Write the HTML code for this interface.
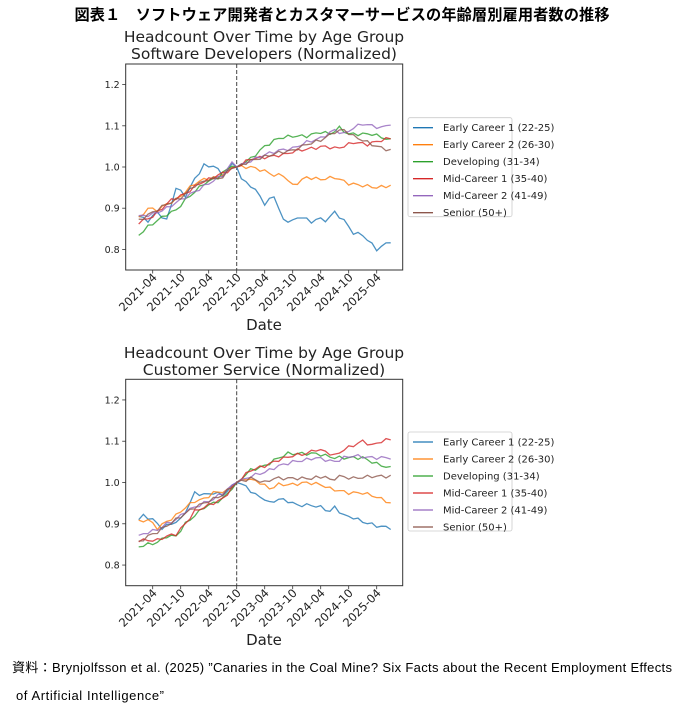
<!DOCTYPE html>
<html><head><meta charset="utf-8"><style>
body{margin:0;background:#fff}
svg{display:block}
text{font-family:"DejaVu Sans","Liberation Sans",sans-serif;fill:#222}
.jp{font-family:"Liberation Sans","Noto Sans CJK JP",sans-serif;fill:#000}
</style></head><body>
<svg id="s" width="680" height="711" viewBox="0 0 680 711" xmlns="http://www.w3.org/2000/svg">
<text class="jp" x="342" y="20" text-anchor="middle" font-size="15.2" font-weight="bold" textLength="535" lengthAdjust="spacing">図表１　ソフトウェア開発者とカスタマーサービスの年齢層別雇用者数の推移</text>
<text x="264" y="42" text-anchor="middle" font-size="15.5">Headcount Over Time by Age Group</text>
<text x="264" y="59" text-anchor="middle" font-size="15.5">Software Developers (Normalized)</text>
<text x="264" y="358" text-anchor="middle" font-size="15.5">Headcount Over Time by Age Group</text>
<text x="264" y="375" text-anchor="middle" font-size="15.5">Customer Service (Normalized)</text>
<g id="top"></g><g id="bot"></g>
<text x="264" y="330" text-anchor="middle" font-size="15">Date</text>
<text x="264" y="645" text-anchor="middle" font-size="15">Date</text>
<text class="jp" x="12" y="672" font-size="13" textLength="660" lengthAdjust="spacing">資料：Brynjolfsson et al. (2025) ”Canaries in the Coal Mine? Six Facts about the Recent Employment Effects</text>
<text class="jp" x="16" y="700" font-size="13" textLength="148" lengthAdjust="spacing">of Artificial Intelligence”</text>
</svg>
<script>
const NS="http://www.w3.org/2000/svg";
const C=["#1f77b4","#ff7f0e","#2ca02c","#d62728","#9467bd","#8c564b"];
const L=["Early Career 1 (22-25)","Early Career 2 (26-30)","Developing (31-34)","Mid-Career 1 (35-40)","Mid-Career 2 (41-49)","Senior (50+)"];
const ticks=["2021-04","2021-10","2022-04","2022-10","2023-04","2023-10","2024-04","2024-10","2025-04"];
function el(p,n,a,t){const e=document.createElementNS(NS,n);for(const k in a)e.setAttribute(k,a[k]);if(t)e.textContent=t;p.appendChild(e);return e;}
function interp(k){const o=[];for(let t=0;t<=54;t++){let i=0;while(i<k.length-2&&k[i+1][0]<t)i++;const a=k[i],b=k[i+1];let f=(t-a[0])/(b[0]-a[0]);f=Math.max(0,Math.min(1,f));o.push(a[1]+(b[1]-a[1])*f);}return o;}
function draw(id,top,bot,data,legTop){
 const g=document.getElementById(id);
 const x0=125.7,x1=402.7;
 const y1=v=>bot-(v-0.75)/0.5*(bot-top);
 const X=t=>152.7+(t-3)*4.667;
 [1.2,1.1,1.0,0.9,0.8].forEach(v=>{const y=y1(v);el(g,"line",{x1:x0-3.5,x2:x0,y1:y,y2:y,stroke:"#333","stroke-width":0.8});el(g,"text",{x:x0-6,y:y+3.5,"text-anchor":"end","font-size":"9.5"},v.toFixed(1));});
 ticks.forEach((s,i)=>{const x=152.7+i*28;el(g,"line",{x1:x,x2:x,y1:bot,y2:bot+3.5,stroke:"#333","stroke-width":0.8});el(g,"text",{x:x+5,y:bot+8,"text-anchor":"end","font-size":"11.5",transform:`rotate(-45 ${x+5} ${bot+8})`},s);});
 el(g,"line",{x1:236.7,x2:236.7,y1:top,y2:bot,stroke:"#444","stroke-width":1,"stroke-dasharray":"4,2"});
 data.forEach((k,i)=>{const v=interp(k);let p="";v.forEach((val,t)=>{const j=t==21?0:0.004*Math.sin(t*2.3+i*1.7);p+=(t?"L":"M")+X(t).toFixed(1)+","+y1(val+j).toFixed(1);});el(g,"path",{d:p,fill:"none",stroke:C[i],"stroke-width":1.3,"stroke-opacity":0.8});});
 el(g,"rect",{x:x0,y:top,width:x1-x0,height:bot-top,fill:"none",stroke:"#333","stroke-width":1});
 el(g,"rect",{x:408,y:legTop,width:104,height:99,fill:"#fff",stroke:"#ccc","stroke-width":0.8,rx:2});
 L.forEach((s,i)=>{const y=legTop+10+i*17;el(g,"line",{x1:413,x2:433,y1:y,y2:y,stroke:C[i],"stroke-width":1.3});el(g,"text",{x:443,y:y+3.5,"font-size":"10"},s);});
}
const T=[
[[0,.88],[2,.87],[4,.89],[6,.87],[8,.95],[10,.93],[12,.97],[14,1.005],[15,1.0],[16,1.005],[18,.98],[20,1.005],[21,1.0],[22,.97],[24,.955],[26,.93],[27,.91],[29,.93],[31,.87],[33,.87],[35,.88],[37,.865],[38,.875],[40,.87],[42,.89],[44,.87],[46,.84],[48,.835],[51,.8],[54,.82]],
[[0,.875],[2,.9],[4,.895],[6,.91],[8,.92],[10,.94],[12,.96],[14,.97],[17,.975],[20,1.0],[21,1.0],[24,1.0],[27,.99],[29,.98],[31,.98],[33,.955],[36,.975],[39,.97],[42,.975],[45,.96],[48,.955],[51,.95],[54,.955]],
[[0,.835],[2,.855],[4,.87],[6,.885],[8,.895],[10,.92],[12,.94],[14,.96],[17,.975],[20,1.005],[21,1.0],[24,1.02],[27,1.05],[30,1.07],[33,1.075],[36,1.075],[39,1.085],[41,1.08],[43,1.095],[45,1.08],[47,1.08],[50,1.08],[54,1.065]],
[[0,.865],[3,.88],[5,.9],[7,.92],[10,.935],[13,.96],[16,.975],[19,.99],[21,1.0],[24,1.02],[28,1.025],[31,1.03],[34,1.04],[37,1.045],[40,1.05],[42,1.045],[44,1.05],[46,1.06],[49,1.055],[52,1.065],[54,1.07]],
[[0,.88],[3,.885],[6,.9],[9,.92],[12,.94],[15,.96],[18,.98],[20,1.01],[21,1.0],[24,1.015],[27,1.03],[30,1.04],[33,1.045],[36,1.06],[39,1.07],[42,1.09],[44,1.08],[46,1.095],[48,1.105],[50,1.1],[52,1.095],[54,1.105]],
[[0,.87],[3,.89],[6,.91],[9,.925],[12,.955],[15,.97],[18,.975],[20,1.0],[21,1.0],[24,1.015],[27,1.025],[30,1.035],[33,1.04],[36,1.055],[39,1.065],[42,1.085],[44,1.09],[46,1.075],[48,1.065],[51,1.05],[54,1.04]]];
const B=[
[[0,.91],[1,.92],[3,.91],[5,.89],[7,.9],[9,.91],[11,.95],[12,.975],[14,.97],[16,.975],[18,.97],[21,1.0],[23,.99],[25,.97],[27,.96],[28,.95],[30,.96],[32,.955],[34,.945],[37,.945],[39,.94],[41,.93],[42,.94],[44,.92],[46,.915],[48,.905],[51,.895],[54,.89]],
[[0,.905],[2,.91],[4,.89],[6,.905],[8,.92],[10,.94],[12,.955],[14,.96],[16,.975],[19,.98],[21,1.0],[23,1.01],[26,1.0],[28,.985],[30,.995],[33,.995],[36,1.0],[39,.995],[41,.985],[43,.98],[45,.975],[48,.975],[51,.965],[54,.95]],
[[0,.845],[2,.85],[4,.855],[6,.87],[8,.87],[10,.9],[12,.92],[14,.94],[16,.95],[18,.96],[21,1.0],[24,1.03],[27,1.04],[30,1.06],[32,1.07],[35,1.07],[38,1.07],[40,1.065],[42,1.06],[45,1.06],[48,1.06],[51,1.045],[54,1.035]],
[[0,.86],[2,.86],[4,.86],[6,.87],[8,.875],[10,.9],[12,.93],[14,.94],[16,.95],[18,.96],[21,1.0],[24,1.03],[27,1.04],[30,1.055],[33,1.065],[36,1.07],[38,1.08],[40,1.075],[42,1.065],[44,1.08],[46,1.09],[48,1.1],[50,1.09],[52,1.1],[54,1.105]],
[[0,.87],[2,.88],[4,.885],[6,.9],[8,.91],[10,.93],[12,.94],[14,.95],[16,.96],[18,.975],[21,1.0],[24,1.015],[27,1.025],[30,1.04],[33,1.05],[36,1.055],[38,1.06],[40,1.055],[42,1.05],[44,1.06],[46,1.065],[50,1.06],[54,1.06]],
[[0,.855],[2,.87],[4,.88],[6,.895],[8,.91],[10,.925],[12,.94],[14,.95],[16,.96],[18,.97],[21,1.0],[24,1.01],[27,1.0],[29,1.01],[31,1.01],[34,1.01],[37,1.01],[40,1.015],[41,1.005],[43,1.015],[46,1.01],[50,1.015],[54,1.015]]];
draw("top",64,270,T,117.7);
draw("bot",379.3,585.7,B,432);
</script>
</body></html>
